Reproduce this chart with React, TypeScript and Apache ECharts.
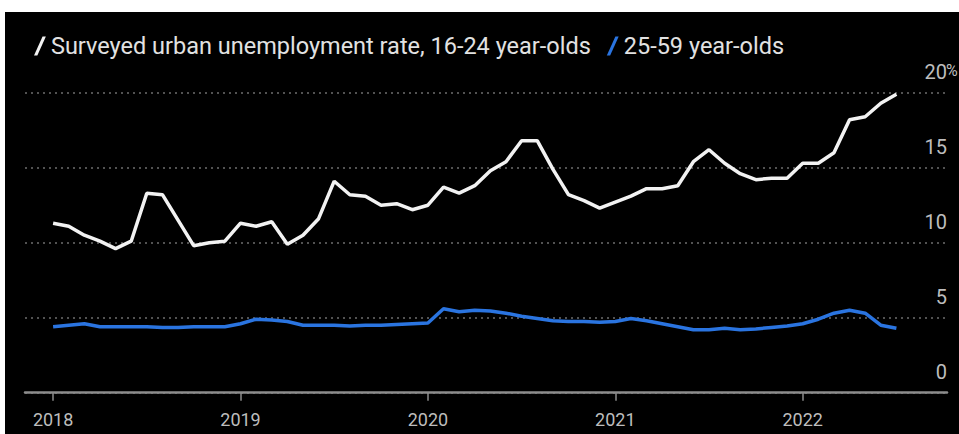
import React, { useEffect, useRef } from "react";
import * as echarts from "echarts";

const startYear = 2018;
const startMonth = 1;

// Surveyed urban unemployment rate, 16-24 year-olds (%), monthly Jan 2018 - Jul 2022
const youthRate: number[] = [
  11.3, 11.1, 10.5, 10.1, 9.6, 10.1, 13.3, 13.2, 11.5, 9.8, 10.0, 10.1,
  11.3, 11.1, 11.4, 9.9, 10.5, 11.6, 14.1, 13.2, 13.1, 12.5, 12.6, 12.2,
  12.5, 13.7, 13.3, 13.8, 14.8, 15.4, 16.8, 16.8, 14.9, 13.2, 12.8, 12.3,
  12.7, 13.1, 13.6, 13.6, 13.8, 15.4, 16.2, 15.3, 14.6, 14.2, 14.3, 14.3,
  15.3, 15.3, 16.0, 18.2, 18.4, 19.3, 19.9,
];

// 25-59 year-olds (%)
const adultRate: number[] = [
  4.4, 4.5, 4.6, 4.4, 4.4, 4.4, 4.4, 4.35, 4.35, 4.4, 4.4, 4.4,
  4.6, 4.9, 4.85, 4.75, 4.5, 4.5, 4.5, 4.45, 4.5, 4.5, 4.55, 4.6,
  4.65, 5.6, 5.4, 5.5, 5.45, 5.3, 5.1, 4.95, 4.8, 4.75, 4.75, 4.7,
  4.75, 4.95, 4.8, 4.6, 4.4, 4.2, 4.2, 4.3, 4.2, 4.25, 4.35, 4.45,
  4.6, 4.9, 5.3, 5.5, 5.3, 4.5, 4.3,
];

const yearTicks: number[] = [2018, 2019, 2020, 2021, 2022];
const yTicks: number[] = [0, 5, 10, 15, 20];

const seriesNames: string[] = [
  "Surveyed urban unemployment rate, 16-24 year-olds",
  "25-59 year-olds",
];

// decimal-year position of each month
const monthPositions: number[] = youthRate.map(
  (_, i) => startYear + (startMonth - 1 + i) / 12
);

const FONT = "Roboto, 'Noto Sans', sans-serif";

export default function App() {
  const ref = useRef<HTMLDivElement>(null);

  useEffect(() => {
    if (!ref.current) return;
    const chart = echarts.init(ref.current, null, { renderer: "svg" });
    const slash = "path://M9,0 L12.5,0 L3.5,20 L0,20 Z";
    chart.setOption({
      animation: false,
      backgroundColor: "#000",
      textStyle: { fontFamily: FONT },
      legend: {
        left: 24,
        top: 17,
        itemWidth: 12,
        itemHeight: 19,
        itemGap: 16,
        icon: slash,
        textStyle: { color: "#e2e2e2", fontSize: 23.5, fontFamily: FONT },
        data: seriesNames,
      },
      grid: { left: 20, right: 12, top: 80.7, bottom: 41.3, containLabel: false },
      xAxis: {
        type: "value",
        min: 2017.85,
        max: 2022.77,
        axisLine: { show: true, lineStyle: { color: "#8c8c8c", width: 2.5 } },
        axisTick: {
          show: true,
          customValues: yearTicks,
          length: 8,
          lineStyle: { color: "#8c8c8c", width: 1.5 },
        },
        axisLabel: {
          customValues: yearTicks,
          formatter: (v: number) => String(v),
          color: "#bdbdbd",
          fontSize: 18,
          margin: 18,
          fontFamily: FONT,
        },
        splitLine: { show: false },
      },
      yAxis: {
        type: "value",
        position: "right",
        min: 0,
        max: 20,
        interval: 5,
        axisLine: { show: false },
        axisTick: { show: false },
        splitLine: {
          show: true,
          lineStyle: { color: "#6e6e6e", type: [2, 4], width: 1.5 },
        },
        axisLabel: {
          inside: true,
          margin: 0,
          color: "#bdbdbd",
          fontSize: 20,
          fontFamily: FONT,
          verticalAlign: "bottom",
          lineHeight: 20,
          padding: [0, 0, 11, 0],
          customValues: yTicks,
        },
      },
      graphic: [
        {
          type: "text",
          left: 941,
          top: 50,
          style: { text: "%", fill: "#bdbdbd", font: `16px ${FONT}` },
        },
      ],
      series: [
        {
          name: seriesNames[0],
          type: "line",
          data: youthRate.map((v, i) => [monthPositions[i], v]),
          showSymbol: false,
          symbol: "none",
          lineStyle: { color: "#f2f2f2", width: 3.5 },
          itemStyle: { color: "#f2f2f2" },
          z: 3,
        },
        {
          name: seriesNames[1],
          type: "line",
          data: adultRate.map((v, i) => [monthPositions[i], v]),
          showSymbol: false,
          symbol: "none",
          lineStyle: { color: "#2a74e0", width: 3.5 },
          itemStyle: { color: "#2a74e0" },
          z: 3,
        },
      ],
    });
    return () => chart.dispose();
  }, []);

  return (
    <div
      style={{
        position: "fixed",
        left: 0,
        top: 0,
        width: 959,
        height: 434,
        background: "#fff",
        overflow: "hidden",
      }}
    >
      <div
        ref={ref}
        style={{ position: "absolute", left: 5, top: 12, width: 954, height: 422 }}
      />
    </div>
  );
}
